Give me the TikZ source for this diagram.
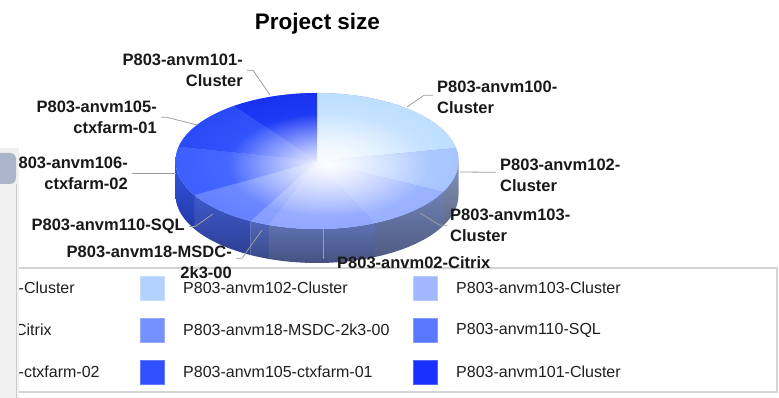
\documentclass[tikz,border=0pt]{standalone}
\usepackage{fontspec}
\setmainfont{Liberation Sans}
\usetikzlibrary{fadings}

% slice colours: inner (near centre) and rim
\definecolor{i100}{HTML}{DDEEFF}\definecolor{r100}{HTML}{9ECFFF}
\definecolor{i102}{HTML}{C4D8FF}\definecolor{r102}{HTML}{88B1FF}
\definecolor{i103}{HTML}{B4C6FF}\definecolor{r103}{HTML}{7C9AFF}
\definecolor{i02}{HTML}{ACBEFF}\definecolor{r02}{HTML}{7890FF}
\definecolor{i18}{HTML}{A0B4FF}\definecolor{r18}{HTML}{6C84FF}
\definecolor{i110}{HTML}{849CFF}\definecolor{r110}{HTML}{4464FF}
\definecolor{i106}{HTML}{5676FF}\definecolor{r106}{HTML}{2646FF}
\definecolor{i105}{HTML}{4262FF}\definecolor{r105}{HTML}{1032F0}
\definecolor{i101}{HTML}{2C4CFF}\definecolor{r101}{HTML}{0418E0}
% side wall colours
\definecolor{s102}{HTML}{8494BC}
\definecolor{s103}{HTML}{6E80B4}
\definecolor{s02}{HTML}{6072B4}
\definecolor{s18}{HTML}{5066BC}
\definecolor{s110}{HTML}{3E58CC}
\definecolor{s106}{HTML}{3252E4}
% legend swatches
\definecolor{g100}{HTML}{C8E2FF}
\definecolor{g102}{HTML}{B4D2FF}
\definecolor{g103}{HTML}{A0B8FF}
\definecolor{g02}{HTML}{88A2FF}
\definecolor{g18}{HTML}{7590FF}
\definecolor{g110}{HTML}{5A78FF}
\definecolor{g106}{HTML}{4462FF}
\definecolor{g105}{HTML}{3050FF}
\definecolor{g101}{HTML}{1A30FF}
\definecolor{hdrblue}{HTML}{A9B5C8}

\colorlet{piein}{white}
\colorlet{pierim}{blue}
\pgfdeclareradialshading[piein,pierim]{pieface}{\pgfpoint{0bp}{0bp}}%
  {color(0bp)=(piein); color(50bp)=(pierim); color(72bp)=(pierim)}
\tikzfading[name=pieglow, inner color=transparent!0, outer color=transparent!100]

\tikzset{
  lbl/.style={font=\fontsize{16.5}{20.5}\selectfont\bfseries, inner sep=0pt, text=black!90},
  leader/.style={draw=black!38, line width=0.8pt},
  lgt/.style={font=\fontsize{16}{19}\selectfont, anchor=west, inner sep=0pt, text=black!88},
  swatch/.style={minimum size=24pt, inner sep=0pt, fill=#1, draw=#1!75!white, line width=0.6pt}
}

\def\pcx{317}\def\pcy{161}\def\prx{141.5}\def\pry{68}\def\pdep{34}

\begin{document}
\begin{tikzpicture}[x=1pt,y=-1pt]
\useasboundingbox (0,0) rectangle (779,398);
\fill[white] (0,0) rectangle (779,398);

% legend box and entries (the first column runs under the side panel)
\begin{scope}
  \clip (19,0) rectangle (779,398);
  \draw[draw=black!17, line width=1.5pt, fill=white] (-200,268) rectangle (777,392);
  \foreach \n/\c/\t [count=\k from 0] in {
      a/g100/P803-anvm100-Cluster, b/g02/P803-anvm02-Citrix, c/g106/P803-anvm106-ctxfarm-02,
      d/g102/P803-anvm102-Cluster, e/g18/P803-anvm18-MSDC-2k3-00, f/g105/P803-anvm105-ctxfarm-01,
      g/g103/P803-anvm103-Cluster, h/g110/P803-anvm110-SQL, i/g101/P803-anvm101-Cluster}{
    \pgfmathtruncatemacro{\col}{int(\k/3)}
    \pgfmathtruncatemacro{\row}{mod(\k,3)}
    \node[swatch=\c] (sw\n) at ({-121+273*\col},{288+42*\row}) {};
    \node[lgt] (lt\n) at ({-90+273*\col},{288+42*\row}) {\t};
  }
\end{scope}

% side wall of the pie
\foreach \a/\b/\s in {0/-27/s102, -27/-66/s103, -66/-110/s02, -110/-118/s18, -118/-150/s110, -150/-180/s106}{
  \shade[top color=\s, bottom color=\s!72!black]
    plot[domain=\a:\b, samples=25] ({\pcx+\prx*cos(\x)},{\pcy-\pry*sin(\x)})
    -- plot[domain=\b:\a, samples=25] ({\pcx+\prx*cos(\x)},{\pcy+\pdep-\pry*sin(\x)}) -- cycle;
}

% top face slices
\fill[r103] (\pcx,\pcy) ellipse [x radius=\prx, y radius=\pry];
\foreach \a/\b/\ci/\co in {90/11/i100/r100, 11/-27/i102/r102, -27/-66/i103/r103,
    -66/-110/i02/r02, -110/-118/i18/r18, -118/-150/i110/r110,
    -150/-192/i106/r106, -192/-234/i105/r105, -234/-270/i101/r101}{
  \begin{scope}
    \clip (\pcx,\pcy) -- plot[domain=\a:\b, samples=40] ({\pcx+\prx*cos(\x)},{\pcy-\pry*sin(\x)}) -- cycle;
    \colorlet{piein}{\ci}\colorlet{pierim}{\co}
    \shade[shading=pieface] (\pcx,\pcy) ellipse [x radius=\prx, y radius=\pry];
  \end{scope}
}
% highlight near the centre
\begin{scope}
  \clip (\pcx,\pcy) ellipse [x radius=\prx, y radius=\pry];
  \fill[white, path fading=pieglow] (328,165) ellipse [x radius=100, y radius=52];
\end{scope}

% title
\node[font=\fontsize{22.5}{27}\selectfont\bfseries, anchor=base, inner sep=0pt] (title) at (317.5,29.5) {Project size};

% slice labels
\node[lbl, align=right, anchor=north east] (l101) at (243,54) {P803-anvm101-\\Cluster};
\node[lbl, align=right, anchor=north east] (l105) at (157,101) {P803-anvm105-\\ctxfarm-01};
\node[lbl, align=right, anchor=north east] (l106) at (128,157) {P803-anvm106-\\ctxfarm-02};
\node[lbl, anchor=north east] (l110) at (185,219) {P803-anvm110-SQL};
\node[lbl, align=right, anchor=north east] (l18) at (232,246) {P803-anvm18-MSDC-\\2k3-00};
\node[lbl, align=left, anchor=north west] (l100) at (437,81) {P803-anvm100-\\Cluster};
\node[lbl, align=left, anchor=north west] (l102) at (500,159) {P803-anvm102-\\Cluster};
\node[lbl, align=left, anchor=north west] (l103) at (450,209) {P803-anvm103-\\Cluster};
\node[lbl, anchor=north west] (l02) at (337,256) {P803-anvm02-Citrix};

% leader lines
\coordinate (p101) at (270,95);
\coordinate (p105) at (197,125);
\coordinate (p106) at (176,172);
\coordinate (p110) at (213,214);
\coordinate (p18) at (262,230);
\coordinate (p100) at (407,107);
\coordinate (p102) at (460,172);
\coordinate (p103) at (420,213);
\coordinate (p02) at (323,229);
\draw[leader] ([xshift=4pt]l101.east) -- ++(6,0) -- (p101);
\draw[leader] ([xshift=4pt]l105.east) -- ++(6,0) -- (p105);
\draw[leader] ([xshift=4pt]l106.east) -- (l106.east -| p106);
\draw[leader] ([xshift=4pt]l110.east) -- ++(6,0) -- (p110);
\draw[leader] ([xshift=4pt,yshift=4pt]l18.east) -- ++(6,0) -- (p18);
\draw[leader] ([xshift=-4pt,yshift=2pt]l100.west) -- ++(-9,0) -- (p100);
\draw[leader] ([xshift=-4pt,yshift=3pt]l102.west) -- (p102);
\draw[leader] ([xshift=-3pt]l103.west) -- ++(-7,0) -- (p103);
\draw[leader] (p02) -- ([yshift=3pt]p02 |- l02.west);

% side panel at the left edge
\fill[black!6] (0,148) rectangle (19,398);
\fill[hdrblue, rounded corners=6pt] (-8,153) rectangle (16,184);
\draw[black!20, line width=1pt] (16,184) -- (16,398);
\end{tikzpicture}
\end{document}
